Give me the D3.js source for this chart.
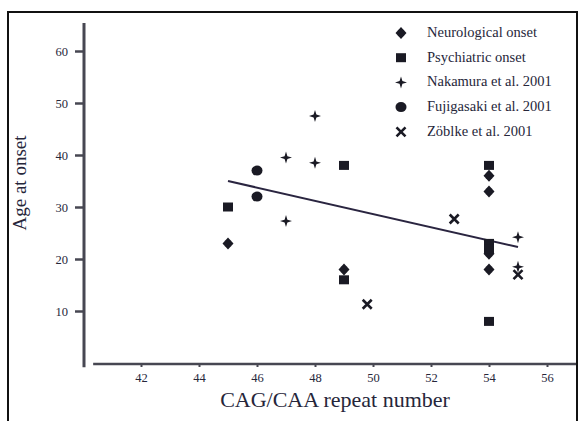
<!DOCTYPE html>
<html>
<head>
<meta charset="utf-8">
<script src="https://cdn.jsdelivr.net/npm/d3@7"></script>
<style>
  body { margin: 0; background: #fff; }
  text { font-family: "Liberation Serif", "DejaVu Serif", serif; }
</style>
</head>
<body>
<div id="chart"></div>
<script>

// --- data ---
var neuroX = [45, 49, 54, 54, 54, 54],
    neuroY = [23, 18, 36, 33, 21, 18];

var psychX = [45, 49, 49, 54, 54, 54, 54],
    psychY = [30, 38, 16, 38, 23, 22, 8];

var nakaX = [47, 47, 48, 48, 55, 55],
    nakaY = [39.5, 27.3, 47.5, 38.5, 24.2, 18.5];

var fujiX = [46, 46],
    fujiY = [37, 32];

var zoblX = [49.8, 52.8, 55],
    zoblY = [11.3, 27.7, 17];

var trendX = [45, 55],
    trendY = [35, 22.3];

var legendLabels = ["Neurological onset", "Psychiatric onset", "Nakamura et al. 2001",
                    "Fujigasaki et al. 2001", " Zöblke et al. 2001"];
var legendKeys = ["neuro", "psych", "naka", "fuji", "zobl"];

var xTicks = [42, 44, 46, 48, 50, 52, 54, 56],
    yTicks = [10, 20, 30, 40, 50, 60];


function draw_chart(place) {

    // --- colours / sizes ---
    var ink = "#1a1a24",
        axis_col = "#474752",
        txt_col = "#26263a";

    var width = 579,
        height = 421;

    var svg = d3.select(place)
            .append("svg")
            .attr("width", width)
            .attr("height", height);

    var xScale = d3.scaleLinear()
            .domain([40, 57])
            .range([83, 576]);

    var yScale = d3.scaleLinear()
            .domain([0, 65])
            .range([363, 25]);

    // --- outer frame ---
    svg.append("rect")
        .attr("x", 8)
        .attr("y", 12)
        .attr("width", 569)
        .attr("height", 430)
        .attr("fill", "none")
        .attr("stroke", "#111")
        .attr("stroke-width", 2);

    // --- symbol shapes ---
    var shapes = {
        neuro: "M0,-6 L5.5,0 L0,6 L-5.5,0 Z M-4,0 a4,4 0 1,1 8,0 a4,4 0 1,1 -8,0 Z",
        psych: "M-5,-4.5 L5,-4.5 L5,4.5 L-5,4.5 Z",
        naka: "M0,-6 L1.4,-1.4 L6,0 L1.4,1.4 L0,6 L-1.4,1.4 L-6,0 L-1.4,-1.4 Z",
        fuji: "M-5.5,0 a5.5,5 0 1,1 11,0 a5.5,5 0 1,1 -11,0 Z",
        zobl: null
    };

    function drawMark(g, key, cx, cy) {
        if (key == "zobl") {
            g.append("path")
                .attr("d", "M-4.5,-4.5 L4.5,4.5 M-4.5,4.5 L4.5,-4.5")
                .attr("transform", "translate(" + cx + "," + cy + ")")
                .attr("stroke", ink)
                .attr("stroke-width", 2.6)
                .attr("fill", "none");
        } else {
            g.append("path")
                .attr("d", shapes[key])
                .attr("transform", "translate(" + cx + "," + cy + ")")
                .attr("fill", ink)
                .attr("fill-rule", "nonzero");
        }
    }

    // --- y axis ---
    var yAxis = d3.axisLeft(yScale)
            .tickValues(yTicks)
            .tickSize(9)
            .tickSizeOuter(0)
            .tickPadding(7);

    var gy = svg.append("g")
            .attr("transform", "translate(84,0)")
            .call(yAxis);
    gy.select(".domain").remove();
    gy.selectAll(".tick line")
        .attr("stroke", axis_col)
        .attr("stroke-width", 2.5);
    gy.selectAll(".tick text")
        .attr("fill", txt_col)
        .attr("font-size", "12.5px")
        .attr("font-family", '"Liberation Serif", serif');

    svg.append("line")
        .attr("x1", 84).attr("x2", 84)
        .attr("y1", yScale(65.4)).attr("y2", yScale(-0.8))
        .attr("stroke", axis_col)
        .attr("stroke-width", 3);

    // --- x axis ---
    var xAxis = d3.axisBottom(xScale)
            .tickValues(xTicks)
            .tickSize(3)
            .tickSizeOuter(0)
            .tickPadding(6);

    var gx = svg.append("g")
            .attr("transform", "translate(0,364)")
            .call(xAxis);
    gx.select(".domain").remove();
    gx.selectAll(".tick line")
        .attr("stroke", axis_col)
        .attr("stroke-width", 2);
    gx.selectAll(".tick text")
        .attr("fill", txt_col)
        .attr("font-size", "12.5px")
        .attr("font-family", '"Liberation Serif", serif');

    svg.append("line")
        .attr("x1", xScale(40.35)).attr("x2", xScale(57))
        .attr("y1", 364).attr("y2", 364)
        .attr("stroke", axis_col)
        .attr("stroke-width", 2.5);

    // --- axis titles ---
    svg.append("text")
        .text("CAG/CAA repeat number")
        .attr("x", 335)
        .attr("y", 407)
        .attr("text-anchor", "middle")
        .attr("font-size", "22px")
        .attr("fill", txt_col);

    svg.append("text")
        .text("Age at onset")
        .attr("transform", "translate(26,183) rotate(-90)")
        .attr("text-anchor", "middle")
        .attr("font-size", "19px")
        .attr("fill", txt_col);

    // --- trend line ---
    svg.append("line")
        .attr("x1", xScale(trendX[0])).attr("y1", yScale(trendY[0]))
        .attr("x2", xScale(trendX[1])).attr("y2", yScale(trendY[1]))
        .attr("stroke", "#2a2540")
        .attr("stroke-width", 2);

    // --- points ---
    var series = [
        ["neuro", neuroX, neuroY],
        ["psych", psychX, psychY],
        ["naka", nakaX, nakaY],
        ["fuji", fujiX, fujiY],
        ["zobl", zoblX, zoblY]
    ];

    var gp = svg.append("g").attr("class", "points");
    series.forEach(function(s) {
        for (var i = 0; i < s[1].length; i++) {
            drawMark(gp, s[0], xScale(s[1][i]), yScale(s[2][i]));
        }
    });

    // --- legend ---
    var gl = svg.append("g").attr("class", "legend");
    for (var i = 0; i < legendKeys.length; i++) {
        var ly = 33 + i * 24.7;
        drawMark(gl, legendKeys[i], 401, ly);
        gl.append("text")
            .text(legendLabels[i])
            .attr("x", 427)
            .attr("y", ly + 4)
            .attr("font-size", "14.5px")
            .attr("fill", txt_col);
    }
}

draw_chart("#chart");
</script>
</body>
</html>
